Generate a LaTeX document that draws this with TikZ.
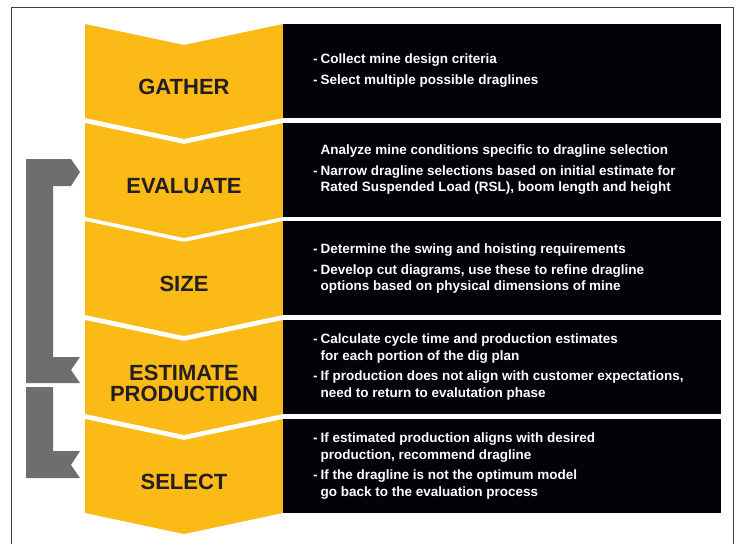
\documentclass[tikz,border=0pt]{standalone}
\usepackage{fontspec}
\setmainfont{Liberation Sans}
\definecolor{catyellow}{RGB}{251,186,22}
\definecolor{boxblack}{RGB}{3,2,8}
\definecolor{loopgray}{RGB}{109,110,112}
\definecolor{labelink}{RGB}{35,31,32}
\newcommand{\dd}{\makebox[7.5pt][l]{-}}
\newcommand{\ind}{\hspace*{7.5pt}}
\begin{document}
\begin{tikzpicture}[x=1pt,y=-1pt,
  stage/.style={font=\fontsize{22}{21}\selectfont\bfseries,text=labelink,align=center,inner sep=0pt},
  notes/.style={font=\fontsize{13.5}{16.5}\selectfont\bfseries,text=white,align=left,anchor=north west,inner sep=0pt}]
\useasboundingbox (0,0) rectangle (737,544);
\draw[line width=1pt,black!75] (11,560)--(11,7)--(733,7)--(733,560);
% chevrons and boxes
\foreach \t/\n/\lab in {24/gather/GATHER,123/evaluate/EVALUATE,221/size/SIZE,
    320/estimate/{ESTIMATE\\PRODUCTION},419/select/SELECT}{
  \fill[catyellow] (85,\t)--(184,\t+21)--(283,\t)--(283,\t+94)--(184,\t+115)--(85,\t+94)--cycle;
  \fill[boxblack] (283,\t) rectangle (721,\t+94);
  \node[stage] (\n) at (184,\t+63) {\lab};
}
%loops back
\fill[loopgray] (26,159)--(71,159)--(80,172)--(71,186)--(53,186)--(53,357)--(80,357)
  --(71,370)--(80,383)--(26,383)--cycle;
\fill[loopgray] (26,387)--(53,387)--(53,451)--(80,451)--(71,465)--(80,478)--(26,478)--cycle;
%text
\node[notes] (gather-notes) at (313,54) {\dd Collect mine design criteria\\[4pt]
  \dd Select multiple possible draglines};
\node[notes] (evaluate-notes) at (313,145) {\ind Analyze mine conditions specific to dragline selection\\[4pt]
  \dd Narrow dragline selections based on initial estimate for\\
  \ind Rated Suspended Load (RSL), boom length and height};
\node[notes] (size-notes) at (313,244) {\dd Determine the swing and hoisting requirements\\[4pt]
  \dd Develop cut diagrams, use these to refine dragline\\
  \ind options based on physical dimensions of mine};
\node[notes] (estimate-notes) at (313,334) {\dd Calculate cycle time and production estimates\\
  \ind for each portion of the dig plan\\[4pt]
  \dd If production does not align with customer expectations,\\
  \ind need to return to evalutation phase};
\node[notes] (select-notes) at (313,433) {\dd If estimated production aligns with desired\\
  \ind production, recommend dragline\\[4pt]
  \dd If the dragline is not the optimum model\\
  \ind go back to the evaluation process};
\end{tikzpicture}
\end{document}
